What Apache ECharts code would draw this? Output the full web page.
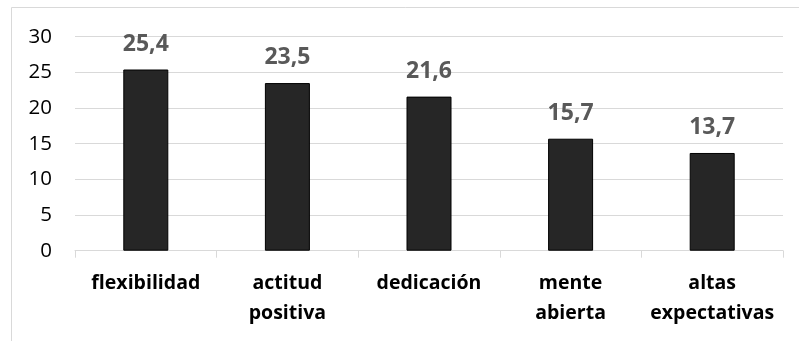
<!DOCTYPE html>
<html>
<head>
<meta charset="utf-8">
<script src="https://cdn.jsdelivr.net/npm/echarts@6/dist/echarts.min.js"></script>
<style>
  html, body { margin: 0; padding: 0; background: #ffffff; }
  #chart { width: 799px; height: 341px; }
</style>
</head>
<body>
<div id="chart"></div>
<script>
// Categories and values
const categories = ['flexibilidad', 'actitud\npositiva', 'dedicación', 'mente\nabierta', 'altas\nexpectativas'];
const values = [25.4, 23.5, 21.6, 15.7, 13.7];
const yTicks = [0, 5, 10, 15, 20, 25, 30];

const FONT = 'Open Sans';

const chart = echarts.init(document.getElementById('chart'), null, { renderer: 'canvas' });

chart.setOption({
  animation: false,
  backgroundColor: '#ffffff',
  graphic: [{
    type: 'rect',
    shape: { x: 11.5, y: 7.5, width: 900, height: 500 },
    style: { fill: 'none', stroke: '#d9d9d9', lineWidth: 1 },
    silent: true,
    z: -1
  }],
  grid: { left: 75, right: 16, top: 36.7, bottom: 90.3 },
  xAxis: {
    type: 'category',
    data: categories,
    axisLine: { show: true, lineStyle: { color: '#d9d9d9', width: 1 } },
    axisTick: { show: true, length: 7, lineStyle: { color: '#d9d9d9' } },
    axisLabel: {
      interval: 0,
      margin: 18,
      fontFamily: FONT,
      fontWeight: 'bold',
      fontSize: 19.5,
      color: '#000000',
      lineHeight: 30
    }
  },
  yAxis: {
    type: 'value',
    min: yTicks[0],
    max: yTicks[yTicks.length - 1],
    interval: 5,
    axisLine: { show: false },
    axisTick: { show: false },
    splitLine: { lineStyle: { color: '#d9d9d9', width: 1 } },
    axisLabel: {
      margin: 23,
      fontFamily: FONT,
      fontSize: 20.5,
      color: '#000000'
    }
  },
  series: [{
    type: 'bar',
    data: values,
    barWidth: 45,
    itemStyle: { color: '#262626', borderColor: '#000000', borderWidth: 1 },
    label: {
      show: true,
      position: 'top',
      distance: 14,
      fontFamily: FONT,
      fontWeight: 'bold',
      fontSize: 23,
      color: '#595959',
      formatter: p => String(p.value).replace('.', ',')
    }
  }]
});
</script>
</body>
</html>
